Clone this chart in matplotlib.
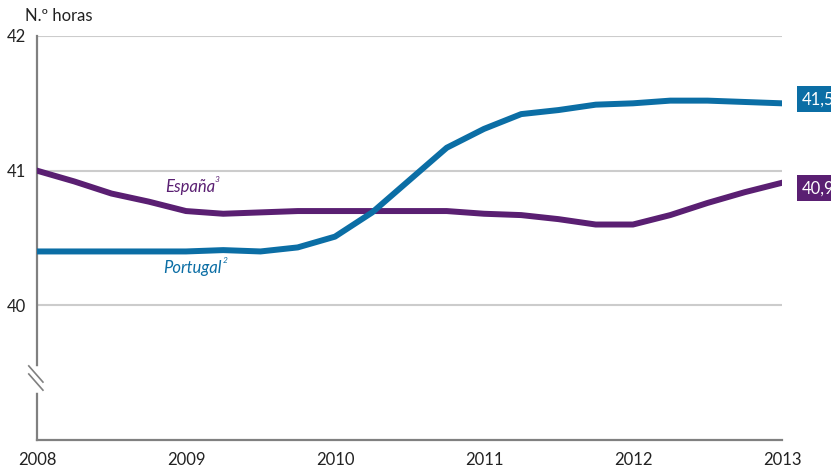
import numpy as np
import matplotlib.pyplot as plt
import matplotlib.lines as mlines

plt.rcParams['font.family'] = ['Lato', 'DejaVu Sans']

# quarterly values, 2008 -> 2013
quarters = [2008 + i * 0.25 for i in range(21)]
portugal = [40.40, 40.40, 40.40, 40.40, 40.40, 40.41, 40.40, 40.43,
            40.51, 40.69, 40.93, 41.17, 41.31, 41.42, 41.45, 41.49,
            41.50, 41.52, 41.52, 41.51, 41.50]
espana = [41.00, 40.92, 40.83, 40.77, 40.70, 40.68, 40.69, 40.70,
          40.70, 40.70, 40.70, 40.70, 40.68, 40.67, 40.64, 40.60,
          40.60, 40.67, 40.76, 40.84, 40.91]
years = [2008, 2009, 2010, 2011, 2012, 2013]
yticks = [40, 41, 42]
last_labels = ['41,5', '40,9']

blue = '#0b6ea5'
purple = '#5a1f72'
grey = '#808080'

fig = plt.figure(figsize=(8.31, 4.65), dpi=100)
ax = fig.add_axes([0.0445, 0.0538, 0.8965, 0.8688])

for y in yticks:
    ax.axhline(y, color='#cccccc', lw=1.5, zorder=1)

ax.plot(quarters, espana, color=purple, lw=4.3, solid_joinstyle='round', zorder=3)
ax.plot(quarters, portugal, color=blue, lw=4.3, solid_joinstyle='round', zorder=3)

ax.set_xlim(2008, 2013)
ax.set_ylim(39, 42)
ax.set_xticks(years)
ax.set_xticklabels([str(y) for y in years])
ax.set_yticks(yticks)
ax.tick_params(length=0, labelsize=12, colors='#222222')
ax.tick_params(axis='x', pad=9)
ax.tick_params(axis='y', pad=8)

for s in ['top', 'right']:
    ax.spines[s].set_visible(False)
for s in ['left', 'bottom']:
    ax.spines[s].set_color(grey)
    ax.spines[s].set_linewidth(1.6)

# axis break on the y axis
ax.plot([0, 0], [39.37, 39.53], color='white', lw=4, transform=ax.get_yaxis_transform(),
        clip_on=False, zorder=5)
for dy in (0, -0.06):
    ax.add_line(mlines.Line2D([-0.011, 0.008], [39.55 + dy, 39.43 + dy], color=grey, lw=1.2,
                              transform=ax.get_yaxis_transform(), clip_on=False, zorder=6))

fig.text(0.03, 0.955, 'N.º horas', fontsize=12, color='#222222')

ax.text(2009.03, 40.88, 'España', color=purple, fontsize=12, style='italic', ha='center', va='center')
ax.text(2009.21, 40.935, '3', color=purple, fontsize=6, style='italic', ha='center', va='center')
ax.text(2009.04, 40.28, 'Portugal', color=blue, fontsize=12, style='italic', ha='center', va='center')
ax.text(2009.26, 40.335, '2', color=blue, fontsize=6, style='italic', ha='center', va='center')

ax.text(2013.135, portugal[-1] + 0.03, last_labels[0], color='white', fontsize=12, va='center',
        ha='left', bbox=dict(boxstyle='square,pad=0.3', fc=blue, ec='none'), clip_on=False)
ax.text(2013.135, espana[-1] - 0.04, last_labels[1], color='white', fontsize=12, va='center',
        ha='left', bbox=dict(boxstyle='square,pad=0.3', fc=purple, ec='none'), clip_on=False)

fig.savefig('out.png', dpi=100)
